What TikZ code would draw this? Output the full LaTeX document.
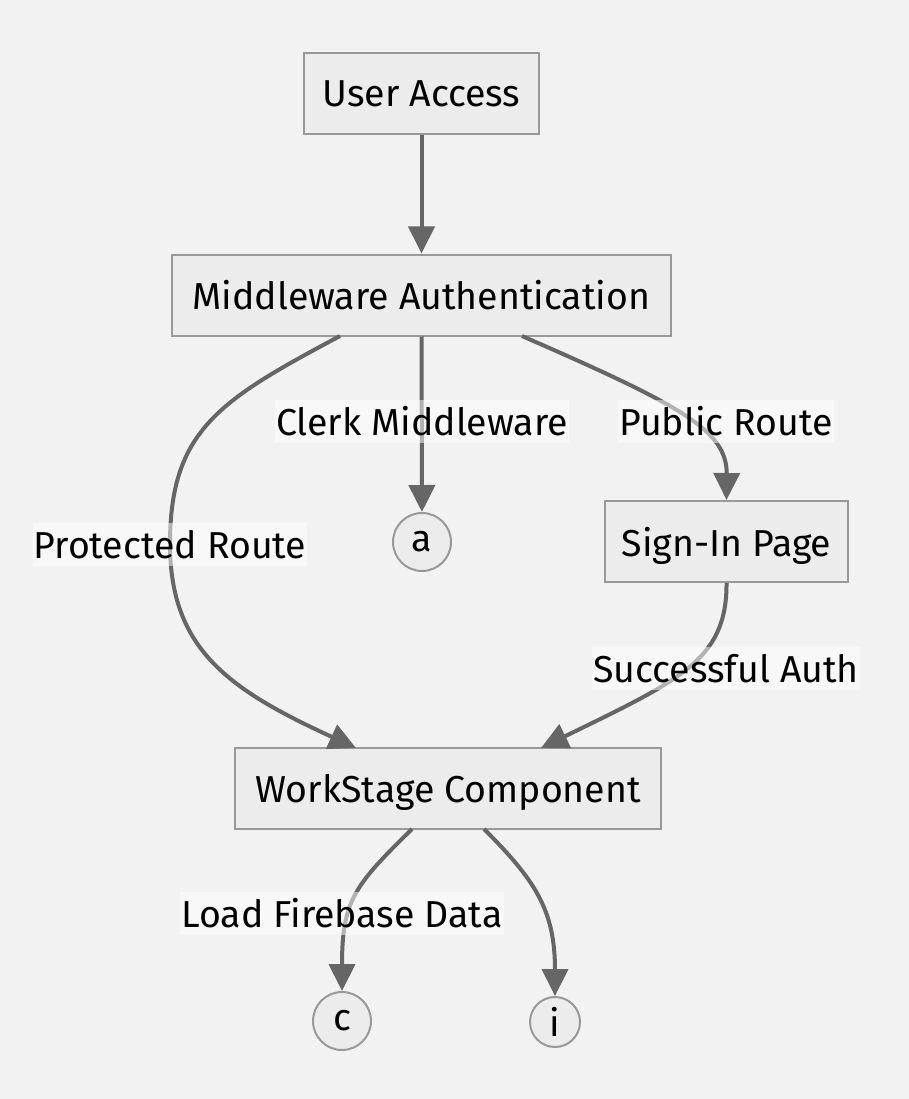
\documentclass[tikz,border=0pt]{standalone}
\usepackage{fontspec}
\setmainfont{Fira Sans}
\usetikzlibrary{arrows.meta}
\definecolor{bg}{HTML}{F2F2F2}
\definecolor{boxfill}{HTML}{ECECEC}
\definecolor{boxline}{HTML}{999999}
\definecolor{edge}{HTML}{666666}
\begin{document}
\begin{tikzpicture}[x=1pt,y=-1pt,
  font=\fontsize{37.5}{44}\selectfont,
  box/.style={draw=boxline, line width=2pt, fill=boxfill, inner sep=0pt, minimum height=81pt, text depth=0pt},
  circ/.style={circle, draw=boxline, line width=2pt, fill=boxfill, inner sep=0pt},
  lbl/.style={fill=white, fill opacity=0.5, text opacity=1, inner xsep=1pt, inner ysep=0pt, minimum height=43pt, text depth=0pt},
  conn/.style={draw=edge, line width=4pt, -{Triangle[length=27pt,width=26pt]}}]
\fill[bg] (0,0) rectangle (909,1099);
\useasboundingbox (0,0) rectangle (909,1099);
\node[box, minimum width=235pt] (user) at (421.5,93.5) {User Access};
\node[box, minimum width=499pt] (mid) at (421.5,295) {Middleware Authentication};
\node[circ, minimum size=58pt] (a) at (422,542) {a};
\node[box, minimum width=243pt] (sign) at (726.5,541.5) {Sign-In Page};
\node[box, minimum width=426pt] (work) at (448,788.5) {WorkStage Component};
\node[circ, minimum size=58pt] (c) at (342,1021) {c};
\node[circ, minimum size=50pt] (i) at (555,1022) {i};
\coordinate (mA) at (340,336);
\coordinate (mB) at (522,336);
\coordinate (wA) at (356,748);
\coordinate (wB) at (541,748);
\coordinate (wC) at (412,829);
\coordinate (wD) at (484,829);
\draw[conn] (user) -- (mid);
\draw[conn] (mid) -- (a);
\draw[conn] (mA) .. controls (220,400) and (170,430) .. (170,544) .. controls (170,650) and (230,690) .. (wA);
\draw[conn] (mB) .. controls (680,405) and (727,430) .. (sign.north);
\draw[conn] (sign.south) .. controls (727,660) and (680,680) .. (wB);
\draw[conn] (wC) .. controls (355,885) and (342,900) .. (c.north);
\draw[conn] (wD) .. controls (535,880) and (555,910) .. (i.north);
\node[lbl] (l1) at (422,421) {Clerk Middleware};
\node[lbl] (l2) at (726,421) {Public Route};
\node[lbl] (l3) at (170,544) {Protected Route};
\node[lbl] (l4) at (726,668) {Successful Auth};
\node[lbl] (l5) at (342,913) {Load Firebase Data};
\end{tikzpicture}
\end{document}
